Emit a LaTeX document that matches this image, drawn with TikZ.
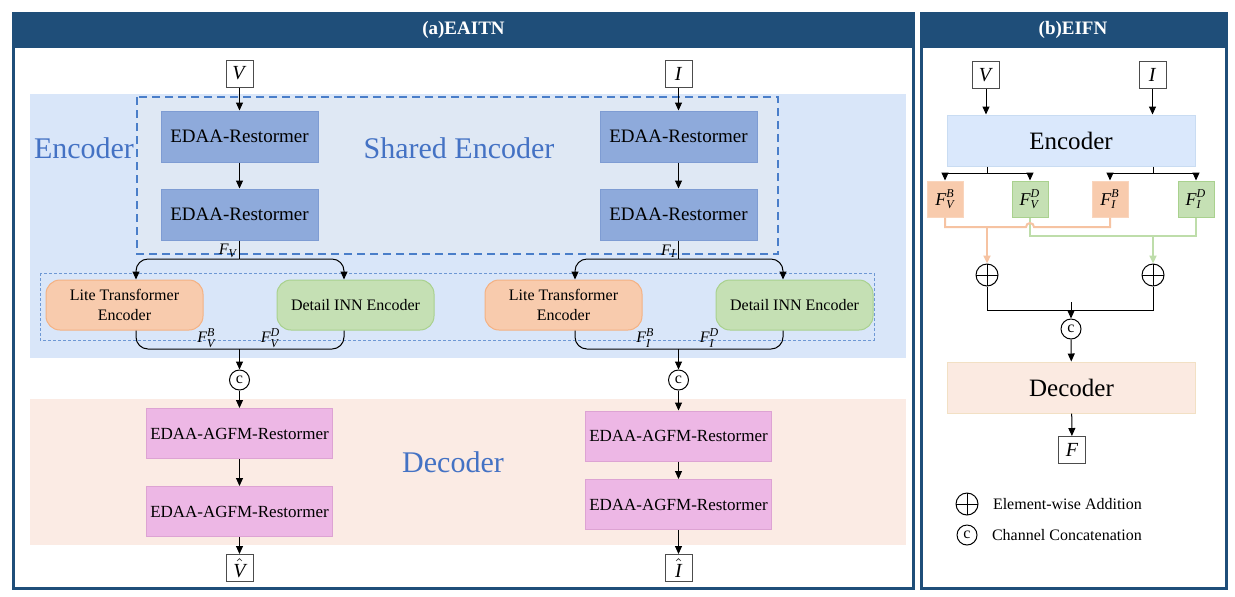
\documentclass[tikz,border=0pt]{standalone}
\usepackage{amsmath}
\usepackage{fontspec}
\setmainfont{Liberation Serif}
\usetikzlibrary{arrows.meta,positioning,calc}
\newcommand{\tvar}[1]{\textit{#1}}
\definecolor{hdrblue}{HTML}{1F4E79}
\definecolor{encbg}{HTML}{D9E6F9}
\definecolor{shbg}{HTML}{DFE8F4}
\definecolor{dashblue}{HTML}{4A7EC9}
\definecolor{edaa}{HTML}{8EAADB}
\definecolor{edaaline}{HTML}{7E9CD3}
\definecolor{lteF}{HTML}{F8CBAD}
\definecolor{lteD}{HTML}{F4B183}
\definecolor{dinnF}{HTML}{C5E0B4}
\definecolor{dinnD}{HTML}{A9D18E}
\definecolor{decbg}{HTML}{FBEBE4}
\definecolor{agfm}{HTML}{EDB7E5}
\definecolor{agfmline}{HTML}{DDA3D3}
\definecolor{txtblue}{HTML}{4472C4}
\definecolor{oline}{HTML}{F6C3A2}
\definecolor{gline}{HTML}{BEDDAA}
\definecolor{bencF}{HTML}{DAE8FC}
\definecolor{bencD}{HTML}{C9DCF2}
\definecolor{bdecF}{HTML}{FBEAE1}
\definecolor{bdecD}{HTML}{F2E0C4}
\tikzset{
    iobox/.style={draw=black!70,fill=white,minimum width=13.5pt,minimum height=13.5pt,inner sep=0pt,font=\fontsize{10}{12}\selectfont},
    edaabox/.style={draw=edaaline,fill=edaa,minimum width=78.5pt,minimum height=25.5pt,inner sep=0pt,font=\fontsize{9.5}{11}\selectfont},
    ltebox/.style={draw=lteD,fill=lteF,rounded corners=7pt,minimum width=78.5pt,minimum height=25pt,inner sep=0pt,align=center,font=\fontsize{8}{10}\selectfont},
    dinnbox/.style={ltebox,draw=dinnD,fill=dinnF},
    agfmbox/.style={draw=agfmline,fill=agfm,minimum width=93pt,minimum height=25pt,inner sep=0pt,font=\fontsize{8.5}{10}\selectfont},
    cat/.style={circle,draw,fill=white,inner sep=0pt,minimum size=10pt,font=\fontsize{8}{9}\selectfont},
    oplus/.style={circle,draw,inner sep=0pt,minimum size=11pt,path picture={\draw (path picture bounding box.north) -- (path picture bounding box.south) (path picture bounding box.west) -- (path picture bounding box.east);}},
    bluelbl/.style={text=txtblue,font=\fontsize{15}{18}\selectfont},
    title/.style={text=white,font=\fontsize{9.5}{11}\selectfont\bfseries},
    flbl/.style={font=\fontsize{8}{9}\selectfont,inner sep=1pt},
    encbox/.style={draw=bencD,fill=bencF,minimum width=124pt,minimum height=25.5pt,font=\fontsize{12.5}{15}\selectfont},
    decbox/.style={encbox,draw=bdecD,fill=bdecF},
    fbbox/.style={draw=lteF!80!white,fill=lteF,minimum width=18pt,minimum height=18pt,inner sep=0pt,font=\fontsize{9}{10}\selectfont},
    fdbox/.style={fbbox,draw=dinnD,fill=dinnF},
    lgd/.style={inner sep=0pt,font=\fontsize{8}{10}\selectfont},
}
\begin{document}
\begin{tikzpicture}[x=0.5pt,y=-0.5pt,>={Triangle[length=4pt,width=3.5pt]},line width=0.5pt]
                \useasboundingbox (0,0) rectangle (1235,596);
                \fill[hdrblue] (12,12) rectangle (915,590);
                \fill[white] (15,48) rectangle (912,587);
                \node[title] (ta) at (463.5,30) {(a)EAITN};
                \fill[hdrblue] (920,12) rectangle (1228,590);
                \fill[white] (923,48) rectangle (1225,587);
                \node[title] (tb) at (1073,30) {(b)EIFN};
                \fill[encbg] (30,94) rectangle (906,358);
                \draw[dashblue,fill=shbg,line width=0.6pt,dash pattern=on 4pt off 2.5pt] (137,97) rectangle (778,254);
                \draw[dashblue!80,line width=0.3pt,dash pattern=on 1.5pt off 1pt] (40,273) rectangle (874,340);
                \fill[decbg] (30,399) rectangle (906,545);
                \node[bluelbl] (encl) at (84,148) {Encoder};
                \node[bluelbl] (shl) at (459,148) {Shared Encoder};
                \node[bluelbl] (decl) at (453,462) {Decoder};
                \foreach \x/\n/\m/\ya/\yb in {239.5/v/V/433.5/511.5, 678.5/i/I/436/504.5}
                {
                    \node[iobox] (\n-in) at (\x,73.5) {\tvar{\m}};
                    \node[edaabox] (\n-e1) at (\x,136.5) {EDAA-Restormer};
                    \node[edaabox] (\n-e2) at (\x,214.5) {EDAA-Restormer};
                    \node[ltebox] (\n-lte) at (\x-115,305) {Lite Transformer\\Encoder};
                    \node[dinnbox] (\n-dinn) at (\x+116,305) {Detail INN Encoder};
                    \node[cat] (\n-c) at (\x,380) {c};
                    \node[agfmbox] (\n-d1) at (\x,\ya) {EDAA-AGFM-Restormer};
                    \node[agfmbox] (\n-d2) at (\x,\yb) {EDAA-AGFM-Restormer};
                    \node[iobox] (\n-out) at (\x,568) {$\hat{\tvar{\m}}$};
                    \node[flbl,anchor=east] (\n-f) at (\x,251) {$\tvar{F}_{\tvar{\m}}$};
                    \node[flbl] (\n-fb) at (\x-33,338) {$\tvar{F}_{\tvar{\m}}^{\tvar{B}}$};
                    \node[flbl] (\n-fd) at (\x+31,338) {$\tvar{F}_{\tvar{\m}}^{\tvar{D}}$};
                    \coordinate (\n-br) at (\x,259);
                    \coordinate (\n-mg) at (\x,349);
                    \draw[->] (\n-in) -- (\n-e1);
                    \draw[->] (\n-e1) -- (\n-e2);
                    \draw (\n-e2) -- (\n-br);
                    \draw[->,rounded corners=6pt] (\n-br) -| ([xshift=5.75pt]\n-lte.north);
                    \draw[->,rounded corners=6pt] (\n-br) -| ([xshift=-5.75pt]\n-dinn.north);
                    \draw[rounded corners=6pt] ([xshift=5.75pt]\n-lte.south) |- (\n-mg) -| ([xshift=-5.75pt]\n-dinn.south);
                    \draw[->] (\n-mg) -- (\n-c);
                    \draw[->] (\n-c) -- (\n-d1);
                    \draw[->] (\n-d1) -- (\n-d2);
                    \draw[->] (\n-d2) -- (\n-out);
                }
                \node[iobox] (b-v) at (986,75) {\tvar{V}};
                \node[iobox] (b-i) at (1152.5,75) {\tvar{I}};
                \node[encbox] (b-enc) at (1071,140.5) {Encoder};
                \node[fbbox] (b-fvb) at (945,199) {$\tvar{F}_{\tvar{V}}^{\tvar{B}}$};
                \node[fdbox] (b-fvd) at (1030,199) {$\tvar{F}_{\tvar{V}}^{\tvar{D}}$};
                \node[fbbox] (b-fib) at (1110,199) {$\tvar{F}_{\tvar{I}}^{\tvar{B}}$};
                \node[fdbox] (b-fid) at (1196,199) {$\tvar{F}_{\tvar{I}}^{\tvar{D}}$};
                \node[oplus] (b-a1) at (987,275) {};
                \node[oplus] (b-a2) at (1153,275) {};
                \node[cat] (b-c) at (1071,329) {c};
                \node[decbox] (b-dec) at (1071.5,387.5) {Decoder};
                \node[iobox] (b-f) at (1072,450) {\tvar{F}};
                \coordinate (b-s1) at (987,173);
                \coordinate (b-s2) at (1153,173);
                \coordinate (b-o) at (987,227);
                \coordinate (b-g) at (1153,236);
                \coordinate (b-j) at (1071,310);
                \draw[->] (b-v) -- (b-v |- b-enc.north);
                \draw[->] (b-i) -- (b-i |- b-enc.north);
                \draw (b-enc.south -| b-s1) -- (b-s1);
                \draw (b-enc.south -| b-s2) -- (b-s2);
                \draw[->] (b-s1) -| (b-fvb);
                \draw[->] (b-s1) -| (b-fvd);
                \draw[->] (b-s2) -| (b-fib);
                \draw[->] (b-s2) -| (b-fid);
                \draw[gline,line width=1pt] (b-fvd) |- (b-g) -| (b-fid);
                \draw[gline,line width=1pt,->] (b-g) -- (b-a2);
                \draw[oline,line width=1pt] (b-fvb) |- (b-o) -- (1026,227) arc[start angle=180,end angle=360,radius=4] -| (b-fib);
                \draw[oline,line width=1pt,->] (b-o) -- (b-a1);
                \draw (b-a1) |- (b-j) -| (b-a2);
                \draw[->] ([yshift=4pt]b-j) -- (b-c);
                \draw[->] (b-c) -- (b-dec);
                \draw[->] (b-dec) -- (b-f);
                \node[oplus] (l-a) at (967,504) {};
                \node[lgd,right=7pt of l-a] (l-at) {Element-wise Addition};
                \node[cat] (l-c) at (967,535) {c};
                \node[lgd,right=7pt of l-c] (l-ct) {Channel Concatenation};
            \end{tikzpicture}
\end{document}
